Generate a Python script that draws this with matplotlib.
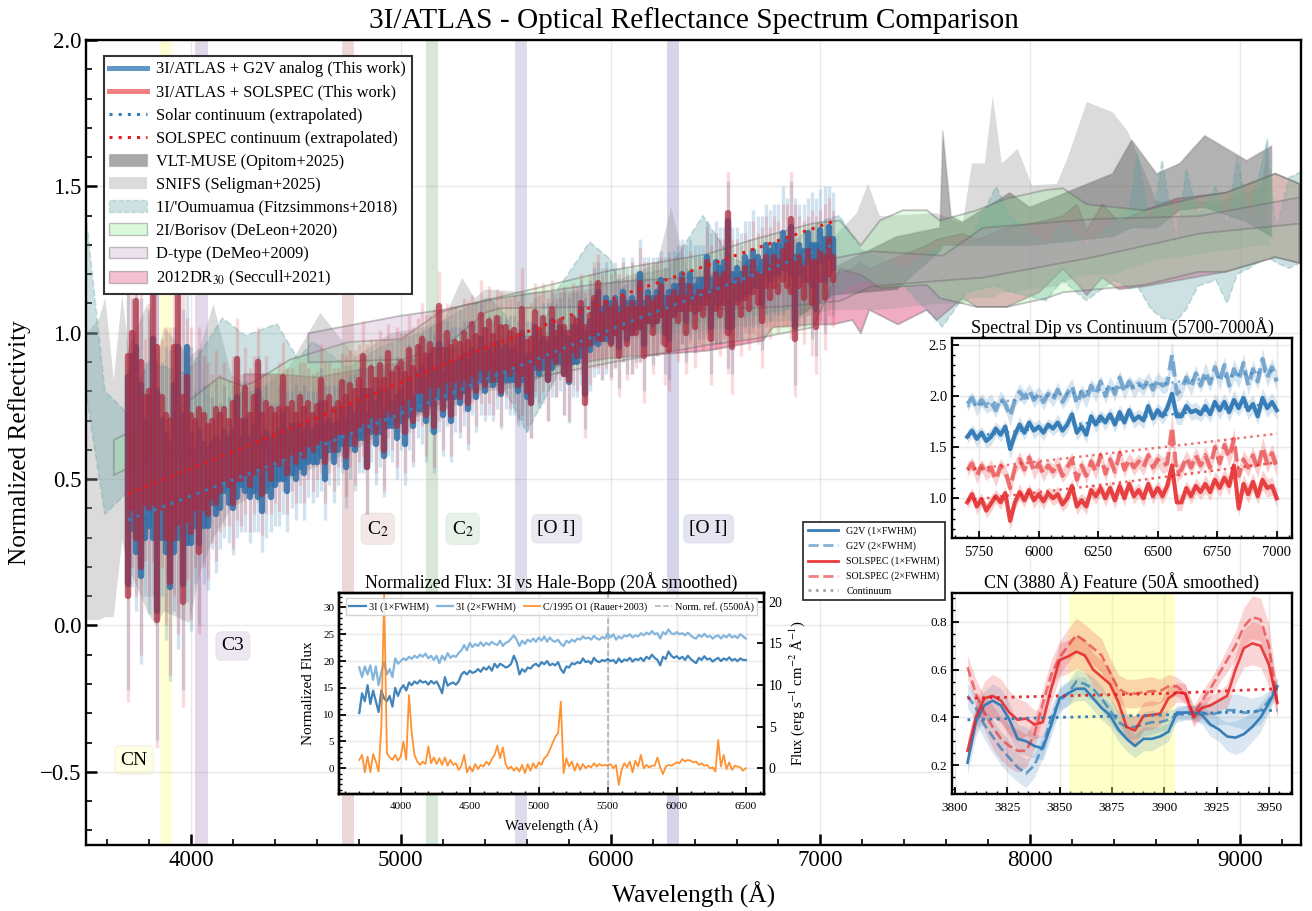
import numpy as np
import matplotlib
matplotlib.use('Agg')
import matplotlib.pyplot as plt
from matplotlib.colors import to_rgba
from matplotlib.lines import Line2D
from matplotlib.patches import Patch
from matplotlib.ticker import MultipleLocator

plt.rcParams['font.family'] = ['Liberation Serif', 'DejaVu Serif']
plt.rcParams['mathtext.fontset'] = 'stix'

W, H = 1312, 911
BLUE = '#377eb8'
RED = '#e41a1c'
SPEC_BLUE = '#2f6fa8'
SPEC_RED = '#ab2a3f'
ORANGE = '#ff7f0e'

# main spectrum, min and max of each 20 A bin from 3700 A
spec_start = 3700
spec_step = 20
g2v_hi = [.85, .92, .95, .82, .70, .78, .98, .80, .70, .65,
          .62, .82, .95, .72, .95, .65, .60, .66, .62, .60,
          .62, .64, .62, .66, .64, .66, .78, .64, .70, .64,
          .68, .80, .64, .66, .64, .62, .66, .72, .66, .68,
          .68, .68, .66, .68, .66, .68, .76, .68, .70, .68,
          .70, .74, .70, .74, .72, .76, .80, .72, .80, .76,
          .80, .74, .80, .76, .78, .80, .76, .84, .78, .86,
          .88, .84, .92, .86, .96, .86, .94, .88, .90, .90,
          .92, .90, .94, .92, .98, .92, .94, .92, .96, .94,
          .95, .94, .94, .92, 1.0, .92, .92, 1.02, .96, .98,
          .96, 1.04, .98, 1.02, 1.0, .98, 1.02, 1.02, 1.08, 1.0,
          1.04, 1.10, 1.14, 1.08, 1.12, 1.10, 1.12, 1.08, 1.14, 1.10,
          1.12, 1.10, 1.20, 1.10, 1.14, 1.12, 1.14, 1.18, 1.12, 1.14,
          1.16, 1.16, 1.20, 1.16, 1.20, 1.16, 1.18, 1.18, 1.26, 1.18,
          1.24, 1.22, 1.24, 1.38, 1.20, 1.22, 1.20, 1.26, 1.24, 1.28,
          1.26, 1.24, 1.30, 1.28, 1.30, 1.30, 1.34, 1.32, 1.36, 1.26,
          1.30, 1.28, 1.34, 1.30, 1.30, 1.35, 1.32, 1.36, 1.32]
g2v_lo = [.14, .33, .25, .17, .30, .34, .30, .05, .30, .25,
          .13, .25, .30, .14, .28, .28, .34, .28, .34, .34,
          .42, .38, .40, .46, .42, .40, .44, .48, .46, .44,
          .46, .44, .39, .46, .44, .48, .50, .50, .46, .52,
          .50, .54, .52, .56, .56, .56, .58, .50, .60, .56,
          .60, .62, .54, .62, .60, .64, .64, .54, .66, .62,
          .66, .58, .68, .68, .64, .70, .62, .72, .68, .74,
          .74, .70, .76, .66, .78, .72, .78, .70, .78, .76,
          .80, .74, .82, .78, .84, .80, .84, .82, .84, .79,
          .84, .84, .84, .80, .84, .78, .76, .88, .86, .88,
          .84, .88, .90, .90, .86, .83, .90, .90, .92, .79,
          .94, .97, .96, .98, .98, .97, 1.0, .95, 1.02, .98,
          1.0, 1.02, 1.02, .96, 1.04, 1.03, 1.04, 1.06, 1.0, .98,
          1.06, 1.08, 1.08, 1.04, 1.10, 1.07, 1.10, 1.10, 1.12, 1.02,
          1.10, 1.10, 1.12, 1.02, 1.02, 1.12, 1.12, 1.14, 1.14, 1.16,
          1.16, 1.10, 1.20, 1.18, 1.20, 1.20, 1.22, 1.22, 1.20, 1.02,
          1.20, 1.18, 1.24, 1.16, 1.08, 1.24, 1.18, 1.26, 1.22]
sol_hi = [.92, 1.0, 1.11, .90, .78, .80, 1.13, .95, .78, .72,
          .70, .95, 1.35, .78, .85, .72, .70, .74, .72, .68,
          .70, .74, .72, .74, .70, .76, .91, .70, .81, .72,
          .78, .90, .72, .76, .74, .72, .74, .85, .74, .76,
          .72, .78, .74, .76, .72, .75, .84, .76, .78, .74,
          .76, .83, .78, .82, .80, .84, .92, .80, .88, .84,
          .89, .84, .93, .86, .88, .90, .86, .94, .88, .95,
          .98, .92, .96, .94, 1.09, .94, 1.00, .95, .97, .96,
          1.0, .97, 1.03, .99, 1.06, 1.01, 1.04, .99, 1.05, 1.02,
          1.02, 1.0, 1.01, .99, 1.08, .97, .98, 1.07, 1.01, 1.05,
          .98, 1.08, 1.0, 1.04, 1.02, 1.0, 1.05, 1.04, 1.10, 1.02,
          1.06, 1.12, 1.17, 1.06, 1.10, 1.08, 1.10, 1.06, 1.12, 1.08,
          1.10, 1.08, 1.17, 1.08, 1.12, 1.10, 1.12, 1.16, 1.08, 1.12,
          1.14, 1.12, 1.18, 1.12, 1.16, 1.12, 1.14, 1.14, 1.24, 1.14,
          1.20, 1.18, 1.20, 1.41, 1.16, 1.18, 1.16, 1.22, 1.18, 1.24,
          1.2, 1.2, 1.26, 1.22, 1.26, 1.24, 1.28, 1.30, 1.39, 1.24,
          1.26, 1.22, 1.28, 1.24, 1.24, 1.28, 1.26, 1.32, 1.26]
sol_lo = [.10, .40, .30, .20, .42, .40, .42, .02, .40, .30,
          .15, .30, .35, .08, .36, .32, .40, .25, .40, .38,
          .44, .42, .46, .50, .48, .42, .50, .50, .52, .48,
          .52, .54, .45, .54, .50, .56, .55, .58, .52, .58,
          .56, .60, .58, .62, .60, .62, .64, .56, .64, .60,
          .66, .66, .58, .66, .62, .68, .70, .54, .72, .66,
          .72, .60, .74, .72, .68, .76, .66, .78, .70, .80,
          .80, .72, .82, .68, .82, .74, .84, .72, .84, .78,
          .85, .76, .86, .80, .88, .82, .88, .84, .88, .80,
          .88, .86, .88, .82, .86, .80, .76, .90, .88, .92,
          .84, .92, .90, .94, .86, .84, .94, .92, .96, .76,
          .96, 1.0, .98, .98, 1.0, .96, 1.0, .92, 1.02, .96,
          1.0, 1.0, 1.02, .92, 1.04, 1.0, 1.04, 1.06, .96, .94,
          1.06, 1.04, 1.08, 1.0, 1.08, 1.02, 1.08, 1.06, 1.10, .98,
          1.08, 1.06, 1.1, 1.0, .95, 1.1, 1.06, 1.12, 1.08, 1.14,
          1.1, 1.04, 1.16, 1.12, 1.16, 1.14, 1.18, 1.16, 1.14, .98,
          1.16, 1.12, 1.18, 1.1, 1.02, 1.18, 1.12, 1.2, 1.18]
spec_err = [.36, .2, .2, .3, .2, .3, .2, .44, .2, .3,
            .32, .2, .38, .36, .2, .3, .2, .28, .2, .22,
            .16, .2, .14, .16, .14, .16, .14, .16, .14, .16,
            .14, .12, .14, .16, .12, .14, .16, .12, .14, .12,
            .14, .12, .16, .12, .14, .12, .12, .14, .12, .14,
            .12, .10, .14, .12, .14, .12, .12, .16, .10, .14,
            .12, .14, .10, .12, .14, .10, .14, .12, .14, .10,
            .12, .14, .10, .14, .12, .14, .10, .14, .12, .12,
            .12, .14, .10, .12, .12, .10, .12, .12, .10, .12,
            .10, .12, .12, .12, .14, .12, .12, .10, .12, .12,
            .14, .10, .12, .10, .14, .14, .12, .12, .10, .12,
            .14, .12, .10, .14, .12, .12, .12, .14, .12, .12,
            .14, .12, .12, .16, .12, .14, .12, .10, .14, .14,
            .12, .14, .12, .14, .12, .14, .12, .12, .12, .16,
            .14, .14, .12, .14, .16, .14, .14, .12, .14, .14,
            .14, .16, .14, .14, .14, .14, .16, .14, .16, .20,
            .14, .16, .12, .18, .16, .14, .18, .14, .16]

cont_wave = [3700, 4500, 5300, 6100, 7060]
solar_cont = [.36, .58, .81, 1.04, 1.30]
solspec_cont = [.45, .68, .92, 1.14, 1.38]

# comparison spectra
muse_wave = [6900, 7050, 7362, 7567, 7581, 7620, 7676, 7900, 7995, 8390, 8481, 8600, 8710, 8829, 9029, 9148]
muse_hi = [1.18, 1.22, 1.33, 1.36, 1.69, 1.40, 1.38, 1.48, 1.43, 1.545, 1.66, 1.545, 1.58, 1.675, 1.59, 1.64]
muse_lo = [1.06, 1.13, 1.15, 1.28, 1.30, 1.30, 1.30, 1.30, 1.30, 1.33, 1.36, 1.36, 1.42, 1.43, 1.38, 1.33]

snifs_wave = [3500, 3560, 3590, 3630, 3670, 3700, 3790, 3830, 3870, 3990, 4040, 4105, 4190, 4300, 4460, 4614, 4780,
              4950, 5100, 5200, 5290, 5350, 5400, 5600, 5900, 6100, 6220, 6286, 6360, 6600, 6900, 7050, 7170, 7224,
              7281, 7552, 7676, 7719, 7781, 7819, 7862, 7938, 8005, 8124, 8176, 8267, 8390, 8462, 8600, 8900, 9100,
              9129, 9140]
snifs_hi = [1.00, 1.05, 1.12, .84, 1.13, .95, 1.10, .90, 1.02, .92, .95, 1.10, .86, .80, .88, 1.07, .92,
            1.00, 1.02, 1.04, 1.19, 1.12, 1.15, 1.14, 1.15, 1.20, 1.24, 1.43, 1.22, 1.20, 1.28, 1.32, 1.41, 1.51,
            1.40, 1.41, 1.375, 1.58, 1.58, 1.81, 1.58, 1.63, 1.505, 1.51, 1.60, 1.79, 1.755, 1.69, 1.45, 1.45, 1.50,
            1.66, 1.33]
snifs_lo = [.02, .02, .03, .03, .29, .20, .05, .00, .05, .01, .18, .30, .40, .45, .50, .55, .60,
            .68, .72, .74, .76, .78, .80, .82, .95, .98, 1.0, 1.0, 1.0, 1.02, 1.05, 1.08, 1.08, 1.08,
            1.08, 1.10, 1.10, 1.12, 1.12, 1.12, 1.14, 1.14, 1.15, 1.16, 1.18, 1.20, 1.20, 1.22, 1.25, 1.28, 1.30,
            1.30, 1.30]

oum_wave = [3500, 3590, 3690, 3800, 3980, 4150, 4260, 4410, 4510, 4580, 4750, 4900, 5100, 5300, 5420, 5500, 5600,
            5750, 5900, 6000, 6050, 6150, 6280, 6440, 6570, 6680, 6850, 7000, 7090, 7200, 7400, 7581, 7700, 7838,
            7900, 8076, 8153, 8267, 8400, 8472, 8510, 8576, 8628, 8696, 8743, 8800, 8885, 8938, 8986, 9043, 9129,
            9171, 9233, 9290]
oum_hi = [1.40, .80, .73, .90, .86, 1.05, .99, 1.03, .91, .97, .88, .95, 1.00, 1.08, 1.12, 1.06, .90,
          1.15, 1.31, 1.25, 1.15, 1.20, 1.22, 1.40, 1.26, 1.22, 1.30, 1.38, 1.40, 1.28, 1.22, 1.30, 1.30, 1.50,
          1.40, 1.30, 1.38, 1.30, 1.38, 1.42, 1.61, 1.35, 1.59, 1.30, 1.56, 1.40, 1.50, 1.36, 1.60, 1.38, 1.66,
          1.35, 1.53, 1.55]
oum_lo = [.795, .38, .45, .52, .58, .62, .64, .66, .68, .70, .74, .76, .80, .84, .86, .80, .66,
          .86, .95, 1.0, 1.0, 1.0, 1.02, 1.04, 1.05, 1.06, 1.08, 1.10, 1.14, 1.18, 1.16, 1.02, 1.14, 1.16,
          1.14, 1.11, 1.18, 1.11, 1.18, 1.15, 1.16, 1.08, 1.05, 1.04, 1.08, 1.16, 1.18, 1.10, 1.20, 1.22, 1.26,
          1.24, 1.22, 1.24]

bor_wave = [3630, 3700, 3790, 3880, 3990, 4133, 4240, 4290, 4470, 4750, 5000, 5180, 5300, 6000, 6457, 6676, 6960,
            7090, 7190, 7281, 7390, 7505, 7567, 7743, 7886, 8076, 8153, 8267, 8540, 8800, 8930, 9165, 9280]
bor_hi = [.635, .66, .68, .70, .77, .85, .82, .83, .91, .97, .98, 1.07, 1.095, 1.215, 1.27, 1.32, 1.375,
          1.385, 1.30, 1.385, 1.42, 1.42, 1.385, 1.42, 1.46, 1.49, 1.495, 1.44, 1.42, 1.465, 1.48, 1.545, 1.51]
bor_lo = [.515, .54, .56, .58, .60, .62, .64, .64, .66, .70, .74, .78, .80, .90, .96, .98, 1.02,
          1.22, 1.20, 1.155, 1.16, 1.165, 1.12, 1.09, 1.09, 1.12, 1.14, 1.147, 1.165, 1.21, 1.21, 1.26, 1.24]

dtype_wave = [4557, 5000, 5200, 5400, 5471, 5900, 6100, 6400, 6800, 7090, 7240, 7581, 7771, 8300, 8800, 9290]
dtype_hi = [1.00, 1.06, 1.08, 1.11, 1.12, 1.165, 1.18, 1.19, 1.22, 1.26, 1.28, 1.265, 1.36, 1.39, 1.40, 1.465]
dtype_lo = [.90, .91, .95, 1.07, 1.085, 1.09, 1.08, 1.08, 1.09, 1.11, 1.16, 1.18, 1.19, 1.26, 1.34, 1.375]

dr30_wave = [4250, 4400, 4600, 5000, 5500, 5997, 6457, 6724, 6771, 6962, 7057, 7150, 7190, 7230, 7367, 7505, 7552,
             7676, 7743, 7886, 8040, 8153, 8220, 8267, 8340, 8420, 8540, 8696, 8930, 9165, 9280]
dr30_hi = [.86, .86, .85, .90, .98, 1.03, 1.10, 1.14, 1.16, 1.18, 1.20, 1.22, 1.24, 1.22, 1.26, 1.30, 1.32,
           1.34, 1.32, 1.36, 1.38, 1.40, 1.44, 1.35, 1.44, 1.38, 1.42, 1.46, 1.48, 1.545, 1.51]
dr30_lo = [.60, .60, .60, .70, .86, .915, .94, .975, 1.02, 1.03, 1.03, 1.045, 1.00, 1.08, 1.03, 1.08, 1.045,
           1.12, 1.09, 1.09, 1.14, 1.22, 1.17, 1.13, 1.19, 1.15, 1.16, 1.18, 1.21, 1.26, 1.24]

# emission windows
line_names = ['CN', 'C3', r'C$_2$', r'C$_2$', '[O I]', '[O I]']
line_lo = [3852, 4019, 4719, 5119, 5543, 6267]
line_hi = [3909, 4081, 4776, 5176, 5600, 6324]
line_colors = ['#ffff33', '#733c99', '#a03c3c', '#3c8c3c', '#50509a', '#30309a']
label_wave = [3729, 4200, 4890, 5295, 5743, 6467]
label_y = [-.46, -.07, .33, .33, .33, .33]

# normalized flux inset, 20 A steps from 3700 A
flux_1x = [10.3, 14.0, 12.5, 15.5, 12.0, 14.5, 12.5, 10.5, 14.5, 13.0,
           12.5, 13.5, 11.5, 15.0, 13.5, 14.8, 15.5, 14.5, 16.0, 15.5,
           16.2, 15.8, 16.4, 16.0, 16.2, 15.6, 16.3, 15.8, 16.2, 15.2,
           14.0, 17.0, 15.4, 15.8, 16.0, 15.6, 16.2, 17.5, 18.0, 17.5,
           18.2, 17.8, 18.0, 18.5, 18.0, 18.8, 18.4, 19.0, 18.2, 19.5,
           18.8, 19.5, 19.2, 18.8, 19.0, 19.5, 21.0, 19.8, 17.5, 18.5,
           18.0, 18.8, 18.6, 19.2, 19.5, 19.0, 19.8, 19.4, 20.0, 19.2,
           19.5, 19.2, 19.8, 18.5, 17.8, 19.0, 18.8, 19.6, 19.4, 19.8,
           19.6, 20.5, 19.8, 20.0, 19.5, 20.6, 20.0, 19.8, 20.2, 20.0,
           20.4, 20.0, 20.2, 19.6, 20.5, 19.8, 20.3, 20.1, 20.6, 19.9,
           20.4, 20.2, 20.6, 20.0, 20.8, 20.4, 21.2, 20.6, 20.2, 19.2,
           20.8, 20.4, 21.8, 21.0, 20.6, 20.9, 20.4, 20.8, 20.2, 21.0,
           20.4, 20.0, 19.6, 20.6, 20.2, 20.9, 20.3, 20.5, 19.9, 20.3,
           20.6, 20.0, 20.5, 20.2, 20.7, 20.1, 20.4, 20.0, 20.5, 20.2,
           20.2]
flux_2x = [18.8, 17.0, 19.0, 17.5, 19.2, 16.5, 19.0, 15.5, 18.0, 19.8,
           17.5, 18.5, 17.0, 20.5, 19.5, 20.0, 20.5, 20.2, 20.8, 20.4,
           21.0, 20.6, 21.2, 20.8, 21.4, 20.5, 21.0, 20.2, 21.0, 19.6,
           21.0, 20.2, 21.5, 20.6, 21.0, 20.8, 21.5, 22.0, 23.0, 22.0,
           23.4, 22.6, 23.2, 22.8, 23.5, 22.8, 23.4, 23.0, 23.6, 23.2,
           23.0, 23.8, 22.8, 23.4, 23.6, 24.2, 24.8, 24.0, 22.8, 23.8,
           23.2, 24.0, 23.6, 24.2, 23.6, 24.4, 23.8, 24.6, 23.6, 24.4,
           23.8, 23.6, 24.0, 23.2, 22.8, 23.8, 23.4, 24.0, 23.6, 24.2,
           24.0, 24.6, 24.2, 24.4, 24.0, 24.7, 24.2, 24.0, 24.5, 24.2,
           25.2, 24.4, 25.0, 24.0, 24.6, 24.2, 24.8, 24.6, 25.0, 24.4,
           24.8, 24.6, 25.2, 24.8, 25.3, 25.0, 25.6, 25.0, 25.2, 24.2,
           25.4, 25.0, 25.9, 25.2, 25.0, 25.4, 25.0, 25.2, 24.8, 25.3,
           24.8, 24.4, 24.2, 24.9, 24.5, 25.1, 24.5, 24.7, 24.2, 24.6,
           24.8, 24.2, 24.8, 24.4, 25.0, 24.4, 24.7, 24.3, 25.0, 24.6,
           24.2]
hale_bopp = [1.0, 1.6, -.5, 1.4, -.5, 1.7, .8, -.4, 5.0, 21.0,
             1.8, 1.3, 1.0, 1.6, .9, 1.4, 3.2, 1.0, 8.8, 4.2,
             1.6, .8, .4, .8, .5, 2.6, .6, 1.3, .5, 1.2,
             .4, 1.3, .3, 1.0, .4, .6, -.2, .3, 1.6, -.5,
             .2, -.4, .5, -.1, .4, .2, .8, .4, 1.1, 1.6,
             2.7, 1.2, 2.5, .5, -.1, .2, -.3, .1, -.4, .4,
             -.6, .5, -.3, .6, .0, .7, .4, 1.2, 1.5, 2.2,
             3.0, 3.8, 4.2, 8.0, -.6, 1.2, .2, .8, -.3, .6,
             -.2, .5, .0, .3, .1, .6, .2, .5, .3, .4,
             .3, .5, .0, .4, -2.0, -.2, .6, .1, .8, -.5,
             .9, .2, 1.6, .0, .4, .1, .3, .3, 1.3, .1,
             -.7, .2, .4, .3, .5, .7, .6, 1.1, .8, 1.0,
             .9, .7, .8, .4, .6, .3, .4, .0, .1, -.4,
             3.4, .2, 1.6, -.1, .7, -.2, .3, .2, .1, -.3,
             .0]

# spectral dip inset, 20 A steps from 5700 A
dip_g2v_1x = [1.60, 1.66, 1.58, 1.64, 1.56, 1.60, 1.68, 1.62, 1.70, 1.48,
              1.62, 1.72, 1.64, 1.74, 1.66, 1.70, 1.64, 1.72, 1.68, 1.74,
              1.66, 1.72, 1.82, 1.64, 1.70, 1.62, 1.80, 1.72, 1.80, 1.74,
              1.82, 1.72, 1.84, 1.74, 1.86, 1.76, 1.80, 1.76, 1.90, 1.78,
              1.86, 1.80, 1.88, 2.02, 1.80, 1.80, 1.90, 1.84, 1.86, 1.82,
              1.90, 1.82, 1.94, 1.86, 1.94, 1.84, 1.96, 1.88, 1.98, 1.86,
              1.92, 1.80, 1.98, 1.88, 1.94, 1.86]
dip_g2v_2x = [1.92, 1.98, 1.88, 1.96, 1.90, 1.94, 1.86, 1.98, 1.92, 1.80,
              1.96, 2.04, 1.98, 2.06, 1.96, 2.02, 1.94, 2.02, 1.96, 2.06,
              1.94, 2.02, 2.10, 1.92, 2.04, 1.96, 2.10, 2.02, 2.14, 2.00,
              2.12, 2.02, 2.18, 2.04, 2.14, 2.06, 2.12, 2.08, 2.16, 2.06,
              2.16, 2.10, 2.12, 2.40, 2.02, 2.06, 2.18, 2.08, 2.22, 2.10,
              2.24, 2.12, 2.28, 2.14, 2.30, 2.10, 2.26, 2.16, 2.32, 2.10,
              2.26, 2.14, 2.36, 2.18, 2.28, 2.14]
dip_sol_1x = [.96, 1.04, .92, .99, .88, .95, 1.02, .96, 1.05, .78,
              .96, 1.06, .98, 1.08, .98, 1.04, .97, 1.05, 1.0, 1.04,
              .94, 1.0, 1.12, .92, .98, .92, 1.08, 1.02, 1.10, 1.0,
              1.10, .98, 1.12, 1.0, 1.14, 1.02, 1.08, 1.0, 1.14, 1.02,
              1.10, 1.02, 1.12, 1.32, .96, .96, 1.10, 1.02, 1.12, 1.06,
              1.14, 1.06, 1.18, 1.10, 1.20, 1.12, 1.32, .90, 1.14, 1.04,
              1.16, 1.02, 1.18, 1.10, 1.12, 1.0]
dip_sol_2x = [1.28, 1.34, 1.22, 1.32, 1.24, 1.30, 1.18, 1.32, 1.26, 1.10,
              1.30, 1.38, 1.28, 1.40, 1.26, 1.34, 1.24, 1.32, 1.26, 1.34,
              1.22, 1.30, 1.38, 1.18, 1.32, 1.22, 1.36, 1.26, 1.42, 1.24,
              1.38, 1.26, 1.44, 1.28, 1.38, 1.30, 1.36, 1.30, 1.42, 1.30,
              1.38, 1.32, 1.34, 1.70, 1.24, 1.28, 1.40, 1.30, 1.42, 1.32,
              1.42, 1.30, 1.50, 1.34, 1.52, 1.40, 1.58, 1.22, 1.38, 1.30,
              1.42, 1.28, 1.50, 1.34, 1.44, 1.30]
dip_err = [.07, .06, .08, .06, .07, .08, .07, .07, .06, .10,
           .07, .08, .07, .06, .08, .07, .08, .06, .07, .08,
           .07, .08, .07, .08, .07, .08, .07, .08, .06, .08,
           .07, .08, .07, .08, .06, .08, .07, .08, .07, .08,
           .07, .08, .08, .14, .08, .08, .07, .08, .08, .07,
           .09, .08, .08, .09, .08, .09, .10, .08, .09, .09,
           .09, .08, .10, .09, .09, .09]
dip_cont_wave = [5700, 6000, 6300, 6600, 7000]
dip_cont_g2v_1x = [1.60, 1.68, 1.76, 1.83, 1.93]
dip_cont_g2v_2x = [1.90, 1.99, 2.07, 2.14, 2.25]
dip_cont_sol_1x = [.98, 1.06, 1.14, 1.23, 1.35]
dip_cont_sol_2x = [1.28, 1.36, 1.44, 1.52, 1.63]

# CN inset, 4 A steps from 3806 A
cn_red_1x = [.26, .40, .48, .49, .47, .42, .39, .395, .37, .38, .52, .64, .655, .675, .66, .60, .57, .54, .465, .36,
             .345, .405, .41, .415, .48, .505, .50, .40, .44, .45, .47, .49, .60, .69, .71, .70, .62, .46]
cn_red_2x = [.61, .50, .42, .36, .31, .28, .26, .26, .33, .46, .58, .65, .70, .745, .72, .69, .66, .59, .52, .50,
             .50, .505, .51, .51, .53, .53, .50, .41, .47, .52, .58, .64, .70, .78, .82, .81, .70, .46]
cn_blue_1x = [.21, .38, .45, .47, .45, .39, .31, .30, .28, .27, .37, .48, .50, .52, .52, .48, .44, .41, .35, .31,
              .28, .31, .31, .32, .34, .42, .42, .42, .41, .37, .35, .32, .315, .33, .36, .40, .46, .53]
cn_blue_2x = [.49, .44, .37, .32, .27, .23, .19, .165, .20, .28, .40, .47, .50, .55, .54, .52, .48, .43, .38, .36,
              .36, .37, .38, .38, .39, .41, .42, .42, .42, .41, .42, .43, .43, .42, .42, .43, .47, .54]
cn_red_err = [.05, .06, .07, .09, .09, .09, .09, .07, .06, .06, .06, .07, .07, .07, .07, .07, .07, .06, .06, .06,
              .06, .06, .06, .05, .05, .04, .04, .04, .04, .04, .04, .05, .06, .08, .09, .09, .09, .06]
cn_blue_err = [.05, .06, .06, .07, .07, .07, .06, .06, .05, .05, .05, .05, .05, .05, .05, .05, .05, .05, .05, .05,
               .05, .05, .05, .04, .04, .03, .03, .03, .04, .05, .05, .06, .07, .07, .06, .06, .04, .03]
cn_cont_wave = [3806, 3850, 3900, 3954]
cn_cont_blue = [.39, .40, .41, .43]
cn_cont_red = [.48, .49, .50, .52]


def px_axes(fig, l, t, r, b):
    return fig.add_axes([l/W, 1-b/H, (r-l)/W, (b-t)/H])


def band(ax, wave, lo, hi, color, alpha, edge='#666666', edge_alpha=.4, ls='-', lw=1.3, z=1):
    ax.fill_between(wave, lo, hi, facecolor=to_rgba(color, alpha), edgecolor=to_rgba(edge, edge_alpha),
                    linestyle=ls, linewidth=lw, zorder=z)


def style_axis(ax, xmaj, xmin, ymaj, ymin, size):
    ax.xaxis.set_major_locator(MultipleLocator(xmaj))
    ax.xaxis.set_minor_locator(MultipleLocator(xmin))
    ax.yaxis.set_major_locator(MultipleLocator(ymaj))
    ax.yaxis.set_minor_locator(MultipleLocator(ymin))
    ax.tick_params(which='major', direction='in', length=5, width=1.3, labelsize=size)
    ax.tick_params(which='minor', direction='in', length=2.5, width=1)
    ax.grid(True, which='major', color='#888888', alpha=.18, lw=1)
    ax.set_axisbelow(True)
    for s in ax.spines.values():
        s.set_linewidth(1.7)


fig = plt.figure(figsize=(W/100, H/100), dpi=100)

ax = px_axes(fig, 86, 40, 1301, 845)
ax.set_xlim(3500, 9290)
ax.set_ylim(-.75, 2.0)
style_axis(ax, 1000, 200, .5, .1, 16.5)
ax.tick_params(which='major', length=8, width=1.8)
ax.tick_params(which='minor', length=4, width=1.2)
ax.set_xlabel('Wavelength (Å)', fontsize=18.4, labelpad=8)
ax.set_ylabel('Normalized Reflectivity', fontsize=18.2, labelpad=6)
ax.set_title('3I/ATLAS - Optical Reflectance Spectrum Comparison', fontsize=21.1, pad=9)

for lo, hi, c in zip(line_lo, line_hi, line_colors):
    ax.axvspan(lo, hi, color=c, alpha=.2, lw=0, zorder=.5)
for name, wl, yv, c in zip(line_names, label_wave, label_y, line_colors):
    ax.text(wl, yv, name, fontsize=14, ha='center', va='center', zorder=6,
            bbox=dict(boxstyle='round,pad=0.3', fc=to_rgba(c, .12), ec=to_rgba('#999999', .1)))

band(ax, dr30_wave, dr30_lo, dr30_hi, '#e0457b', .45, z=.9)
band(ax, snifs_wave, snifs_lo, snifs_hi, '#999999', .35, edge='#999999', edge_alpha=0, z=1)
band(ax, muse_wave, muse_lo, muse_hi, '#555555', .45, edge='#555555', edge_alpha=.2, z=1.1)
band(ax, oum_wave, oum_lo, oum_hi, '#5f9ea0', .3, edge='#5f9ea0', edge_alpha=.3, ls='--', z=1.2)
band(ax, bor_wave, bor_lo, bor_hi, '#90ee90', .25, z=1.3)
band(ax, dtype_wave, dtype_lo, dtype_hi, '#b58bb5', .25, z=1.4)

spec_wave = spec_start + spec_step*np.arange(len(g2v_hi))
g2v_hi_a = np.array(g2v_hi)
g2v_lo_a = np.array(g2v_lo)
sol_hi_a = np.array(sol_hi)
sol_lo_a = np.array(sol_lo)
err_a = np.array(spec_err)
# pale error whiskers, then the thick min-max strokes of each bin
ax.vlines(spec_wave, g2v_lo_a-err_a, g2v_hi_a+err_a, color=BLUE, lw=2.4, alpha=.22, zorder=2)
ax.vlines(spec_wave, sol_lo_a-err_a, sol_hi_a+err_a, color=RED, lw=2.4, alpha=.16, zorder=2.1)
ax.vlines(spec_wave, g2v_lo_a, g2v_hi_a, color=SPEC_BLUE, lw=4.6, alpha=.85, zorder=3, capstyle='round')
ax.vlines(spec_wave, sol_lo_a, sol_hi_a, color=SPEC_RED, lw=4.6, alpha=.72, zorder=3.1, capstyle='round')
ax.plot(cont_wave, solar_cont, color=BLUE, lw=2.2, ls=(0, (1, 2)), zorder=4)
ax.plot(cont_wave, solspec_cont, color=RED, lw=2.2, ls=(0, (1, 2)), zorder=4)

handles = [Line2D([], [], color=BLUE, lw=3.6, alpha=.8),
           Line2D([], [], color=RED, lw=3.6, alpha=.55),
           Line2D([], [], color=BLUE, lw=2.2, ls=(0, (1, 2))),
           Line2D([], [], color=RED, lw=2.2, ls=(0, (1, 2))),
           Patch(fc=to_rgba('#555555', .5), ec=to_rgba('#555555', .2)),
           Patch(fc=to_rgba('#999999', .35), ec=to_rgba('#999999', 0)),
           Patch(fc=to_rgba('#5f9ea0', .3), ec=to_rgba('#5f9ea0', .3), ls='--'),
           Patch(fc=to_rgba('#90ee90', .33), ec=to_rgba('#666666', .4)),
           Patch(fc=to_rgba('#b58bb5', .25), ec=to_rgba('#666666', .4)),
           Patch(fc=to_rgba('#e0457b', .33), ec=to_rgba('#666666', .4))]
labels = ['3I/ATLAS + G2V analog (This work)', '3I/ATLAS + SOLSPEC (This work)',
          'Solar continuum (extrapolated)', 'SOLSPEC continuum (extrapolated)',
          'VLT-MUSE (Opitom+2025)', 'SNIFS (Seligman+2025)', "1I/'Oumuamua (Fitzsimmons+2018)",
          '2I/Borisov (DeLeon+2020)', 'D-type (DeMeo+2009)', r'2012DR$_{30}$ (Seccull+2021)']
leg = ax.legend(handles, labels, loc='upper left', bbox_to_anchor=((104-86)/1215, 1-(56-40)/805), borderaxespad=0,
                fontsize=11.85, fancybox=False, framealpha=1, edgecolor='#333333', labelspacing=.43, handlelength=2.3,
                handletextpad=.55, borderpad=.33)
leg.get_frame().set_linewidth(1.5)
leg.set_zorder(8)

# flux inset
ax1 = px_axes(fig, 339, 593, 764, 794)
ax1.set_zorder(10)
ax1.set_xlim(3553, 6632)
ax1.set_ylim(-4.8, 32.7)
style_axis(ax1, 500, 100, 5, 1, 8)
ax1.tick_params(axis='x', which='major', pad=6)
flux_wave = 3700 + 20*np.arange(len(flux_1x))
ax1.axvline(5500, color='gray', ls='--', lw=1.1, alpha=.6)
l1, = ax1.plot(flux_wave, flux_1x, color=BLUE, lw=1.6, alpha=.95)
l2, = ax1.plot(flux_wave, flux_2x, color='#84b6dd', lw=1.6)
ax1.set_xlabel('Wavelength (Å)', fontsize=10.5, labelpad=5)
ax1.set_ylabel('Normalized Flux', fontsize=11, labelpad=6)
ax1.set_title('Normalized Flux: 3I vs Hale-Bopp (20Å smoothed)', fontsize=13, pad=4)
ax1r = ax1.twinx()
ax1r.set_zorder(11)
ax1r.set_ylim(-3.1, 21.06)
ax1r.yaxis.set_major_locator(MultipleLocator(5))
ax1r.tick_params(which='major', direction='in', length=5, width=1.3, labelsize=10)
ax1r.set_ylabel(r'Flux (erg s$^{-1}$ cm$^{-2}$ Å$^{-1}$)', fontsize=10.6, labelpad=3)
l3, = ax1r.plot(flux_wave, hale_bopp, color=ORANGE, lw=1.3, alpha=.85)
for s in ax1r.spines.values():
    s.set_linewidth(1.7)
l4 = Line2D([], [], color='gray', ls='--', lw=1.1, alpha=.6)
leg1 = ax1r.legend([l1, l2, l3, l4], ['3I (1×FWHM)', '3I (2×FWHM)', 'C/1995 O1 (Rauer+2003)', 'Norm. ref. (5500Å)'],
                   loc='upper center', ncol=4, fontsize=7.3, fancybox=False, framealpha=.85, edgecolor='#cccccc',
                   columnspacing=.8, handlelength=1.6, handletextpad=.3, borderpad=.3, borderaxespad=.5)

# dip inset
ax2 = px_axes(fig, 952, 338, 1292, 538)
ax2.set_zorder(10)
ax2.set_xlim(5636, 7064)
ax2.set_ylim(.612, 2.565)
style_axis(ax2, 250, 50, .5, .1, 10.5)
ax2.tick_params(axis='x', which='major', pad=6)
dip_wave = 5700 + 20*np.arange(len(dip_g2v_1x))
dip_e = np.array(dip_err)
for vals, col, alpha, ls in [(dip_g2v_2x, BLUE, .6, '--'), (dip_g2v_1x, BLUE, 1, '-'),
                             (dip_sol_2x, RED, .55, '--'), (dip_sol_1x, RED, .8, '-')]:
    v = np.array(vals)
    ax2.fill_between(dip_wave, v-dip_e, v+dip_e, color=col, alpha=.2, lw=0)
    ax2.plot(dip_wave, v, color=col, lw=3, alpha=alpha, ls=ls)
ax2.plot(dip_cont_wave, dip_cont_g2v_1x, color=BLUE, lw=1.8, ls=':', alpha=.9)
ax2.plot(dip_cont_wave, dip_cont_g2v_2x, color=BLUE, lw=1.8, ls=':', alpha=.6)
ax2.plot(dip_cont_wave, dip_cont_sol_1x, color=RED, lw=1.8, ls=':', alpha=.7)
ax2.plot(dip_cont_wave, dip_cont_sol_2x, color=RED, lw=1.8, ls=':', alpha=.6)
ax2.set_title('Spectral Dip vs Continuum (5700-7000Å)', fontsize=13, pad=4)

# CN inset
ax3 = px_axes(fig, 952, 593, 1292, 794)
ax3.set_zorder(10)
ax3.set_xlim(3798.6, 3961)
ax3.set_ylim(.079, .921)
style_axis(ax3, 25, 5, .2, .05, 9.5)
ax3.tick_params(axis='x', which='major', pad=6)
ax3.axvspan(3854.5, 3905, color='#ffff66', alpha=.35, lw=0)
cn_wave = 3806 + 4*np.arange(len(cn_red_1x))
re = np.array(cn_red_err)
be = np.array(cn_blue_err)
for vals, e, col, alpha, ls in [(cn_blue_1x, be, BLUE, 1, '-'), (cn_blue_2x, be, BLUE, .75, '--'),
                                (cn_red_1x, re, RED, .8, '-'), (cn_red_2x, re, RED, .55, '--')]:
    v = np.array(vals)
    ax3.fill_between(cn_wave, v-e, v+e, color=col, alpha=.18, lw=0)
    ax3.plot(cn_wave, v, color=col, lw=1.9, alpha=alpha, ls=ls)
ax3.plot(cn_cont_wave, cn_cont_blue, color=BLUE, lw=2, ls=':')
ax3.plot(cn_cont_wave, cn_cont_red, color=RED, lw=2, ls=':', alpha=.9)
ax3.set_title('CN (3880 Å) Feature (50Å smoothed)', fontsize=13, pad=4)

# shared legend for the two right insets
handles2 = [Line2D([], [], color=BLUE, lw=2), Line2D([], [], color=BLUE, lw=2, ls='--', alpha=.6),
            Line2D([], [], color=RED, lw=2, alpha=.85), Line2D([], [], color=RED, lw=2, ls='--', alpha=.55),
            Line2D([], [], color='gray', lw=2, ls=':', alpha=.7)]
leg2 = fig.legend(handles2, ['G2V (1×FWHM)', 'G2V (2×FWHM)', 'SOLSPEC (1×FWHM)', 'SOLSPEC (2×FWHM)', 'Continuum'],
                  loc='upper left', bbox_to_anchor=(803/W, 1-522/H), fontsize=7.2, fancybox=False, framealpha=1,
                  edgecolor='#333333', borderaxespad=0, labelspacing=.55, handlelength=3, handletextpad=.9,
                  borderpad=.45)
leg2.get_frame().set_linewidth(1.3)
leg2.set_zorder(20)

fig.savefig('out.png', dpi=100)
